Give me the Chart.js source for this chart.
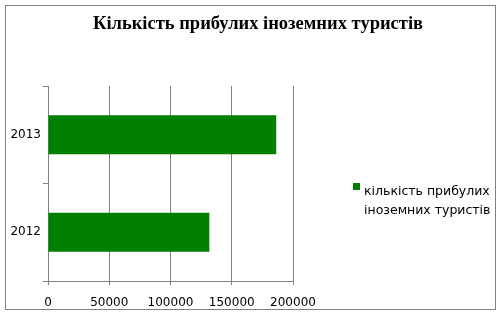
<!DOCTYPE html>
<html>
<head>
<meta charset="utf-8">
<script src="https://cdn.jsdelivr.net/npm/chart.js@4.4.0/dist/chart.umd.min.js"></script>
<style>
  html, body { margin: 0; padding: 0; background: #fff; }
  #wrap { width: 502px; height: 332px; }
</style>
</head>
<body>
<div id="wrap"><canvas id="grafica"></canvas></div>
<script>
// datos del gráfico
var titulo = 'Кількість прибулих іноземних туристів';
var etiquetaSerie = ['кількість прибулих', 'іноземних туристів'];
var anios = ['2012', '2013'];
var turistas = [131700, 186300];
var marcasX = [0, 50000, 100000, 150000, 200000];

var gris = '#808080';
var verde = '#008000';

// plugin que dibuja el marco, el título y la leyenda
var decoracion = {
  id: 'decoracion',
  afterDraw: function(chart) {
    var ctx = chart.ctx;
    ctx.save();
    ctx.strokeStyle = gris;
    ctx.lineWidth = 1;
    ctx.strokeRect(5.5, 5.5, 490, 304);

    ctx.fillStyle = '#000';
    ctx.font = 'bold 18.5px "Liberation Serif"';
    ctx.textAlign = 'center';
    ctx.textBaseline = 'alphabetic';
    ctx.fillText(titulo, 258, 29);

    ctx.fillStyle = verde;
    ctx.fillRect(353, 183, 7, 7);
    ctx.fillStyle = '#000';
    ctx.font = '12.5px "DejaVu Sans"';
    ctx.textAlign = 'left';
    etiquetaSerie.forEach(function(linea, i) {
      ctx.fillText(linea, 364, 195 + i * 19);
    });
    ctx.restore();
  }
};

var grafica = new Chart(document.getElementById('grafica').getContext('2d'), {
  type: 'bar',
  data: {
    labels: anios,
    datasets: [{
      label: etiquetaSerie.join(' '),
      data: turistas,
      backgroundColor: verde,
      borderWidth: 0,
      barPercentage: 0.4,
      categoryPercentage: 1
    }]
  },
  options: {
    indexAxis: 'y',
    responsive: true,
    maintainAspectRatio: false,
    animation: false,
    layout: { padding: { top: 86, right: 209, left: 0, bottom: 21 } },
    plugins: {
      legend: { display: false },
      title: { display: false },
      tooltip: { enabled: false }
    },
    scales: {
      x: {
        min: 0,
        max: 200000,
        afterFit: function(scale) { scale.height = 30; },
        afterBuildTicks: function(scale) {
          scale.ticks = marcasX.map(function(v) { return { value: v }; });
        },
        ticks: {
          color: '#000',
          font: { family: 'DejaVu Sans', size: 12 },
          padding: 11,
          maxRotation: 0,
          callback: function(v) { return String(v); }
        },
        grid: { color: gris, lineWidth: 1, tickLength: 4 },
        border: { color: gris }
      },
      y: {
        reverse: true,
        afterFit: function(scale) { scale.width = 48; },
        ticks: {
          color: '#000',
          font: { family: 'DejaVu Sans', size: 12 },
          padding: 2
        },
        grid: { offset: true, drawOnChartArea: false, color: gris, tickLength: 5 },
        border: { color: gris }
      }
    }
  },
  plugins: [decoracion]
});
</script>
</body>
</html>
